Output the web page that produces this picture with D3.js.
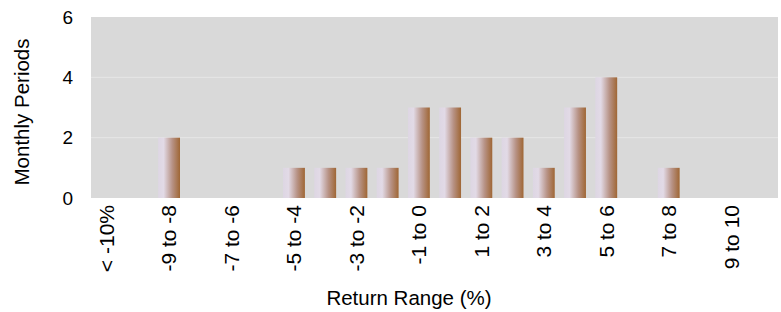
<!DOCTYPE html>
<html>
<head>
<meta charset="utf-8">
<script src="https://cdn.jsdelivr.net/npm/d3@7"></script>
<style>
  body { margin: 0; background: #fff; }
  text { font-family: "Liberation Sans", Arial, sans-serif; fill: #000; }
</style>
</head>
<body>
<svg id="canvas" width="781" height="312"></svg>
<script>
const categorie = ["< -10%", "-10 to -9", "-9 to -8", "-8 to -7", "-7 to -6", "-6 to -5",
  "-5 to -4", "-4 to -3", "-3 to -2", "-2 to -1", "-1 to 0", "0 to 1", "1 to 2", "2 to 3",
  "3 to 4", "4 to 5", "5 to 6", "6 to 7", "7 to 8", "8 to 9", "9 to 10", "> 10%"];
const periodi = [0, 0, 2, 0, 0, 0, 1, 1, 1, 1, 3, 3, 2, 2, 1, 3, 4, 0, 1, 0, 0, 0];
const tickY = [0, 2, 4, 6];

const svg = d3.select("#canvas");
const margine = { left: 91, right: 3, top: 17, bottom: 114 };
const larghezza = 781, altezza = 312;

const scalaX = d3.scaleBand()
  .domain(categorie)
  .range([margine.left, larghezza - margine.right])
  .paddingInner(0.3)
  .paddingOuter(0.15);

const scalaY = d3.scaleLinear()
  .domain([0, 6])
  .range([altezza - margine.bottom, margine.top]);

// gradiente delle barre
const grad = svg.append("defs").append("linearGradient")
  .attr("id", "sfumatura")
  .attr("x1", "0%").attr("x2", "100%").attr("y1", "0%").attr("y2", "0%");
grad.append("stop").attr("offset", "0%").attr("stop-color", "#ddd6e3");
grad.append("stop").attr("offset", "25%").attr("stop-color", "#e2dae6");
grad.append("stop").attr("offset", "65%").attr("stop-color", "#b79285");
grad.append("stop").attr("offset", "100%").attr("stop-color", "#9f6634");

// sfondo
svg.append("rect")
  .attr("x", margine.left)
  .attr("y", margine.top)
  .attr("width", larghezza - margine.right - margine.left)
  .attr("height", scalaY(0) - margine.top)
  .attr("fill", "#d9d9d9");

// griglia
svg.selectAll("line.griglia")
  .data(tickY.filter(d => d > 0 && d < 6))
  .enter()
  .append("line")
  .attr("class", "griglia")
  .attr("x1", margine.left)
  .attr("x2", larghezza - margine.right)
  .attr("y1", d => scalaY(d))
  .attr("y2", d => scalaY(d))
  .attr("stroke", "#e6e6e6")
  .attr("stroke-width", 1);

// barre
svg.selectAll("rect.barra")
  .data(periodi.map((v, i) => ({ cat: categorie[i], v })).filter(d => d.v > 0))
  .enter()
  .append("rect")
  .attr("class", "barra")
  .attr("x", d => scalaX(d.cat))
  .attr("y", d => scalaY(d.v))
  .attr("width", scalaX.bandwidth())
  .attr("height", d => scalaY(0) - scalaY(d.v))
  .attr("fill", "url(#sfumatura)");

// asse Y
const asseY = svg.append("g")
  .attr("transform", `translate(${margine.left},0)`)
  .call(d3.axisLeft(scalaY).tickValues(tickY).tickFormat(d3.format("d"))
    .tickSize(0).tickPadding(18));
asseY.select(".domain").remove();
asseY.selectAll("text").attr("font-family", null).style("font-size", "19px");

// asse X, un'etichetta ogni due
const asseX = svg.append("g")
  .attr("transform", `translate(0,${scalaY(0)})`)
  .call(d3.axisBottom(scalaX)
    .tickValues(categorie.filter((d, i) => i % 2 === 0 && i < 21))
    .tickSize(0));
asseX.select(".domain").remove();
asseX.selectAll("text")
  .attr("font-family", null)
  .style("font-size", "21px")
  .attr("text-anchor", "end")
  .attr("transform", "rotate(-90)")
  .attr("x", -7)
  .attr("y", 0)
  .attr("dy", "0.35em");

// titoli
svg.append("text")
  .attr("transform", "translate(29,112) rotate(-90)")
  .attr("text-anchor", "middle")
  .style("font-size", "20.5px")
  .text("Monthly Periods");

svg.append("text")
  .attr("x", 409)
  .attr("y", 305)
  .attr("text-anchor", "middle")
  .style("font-size", "20.5px")
  .text("Return Range (%)");
</script>
</body>
</html>
